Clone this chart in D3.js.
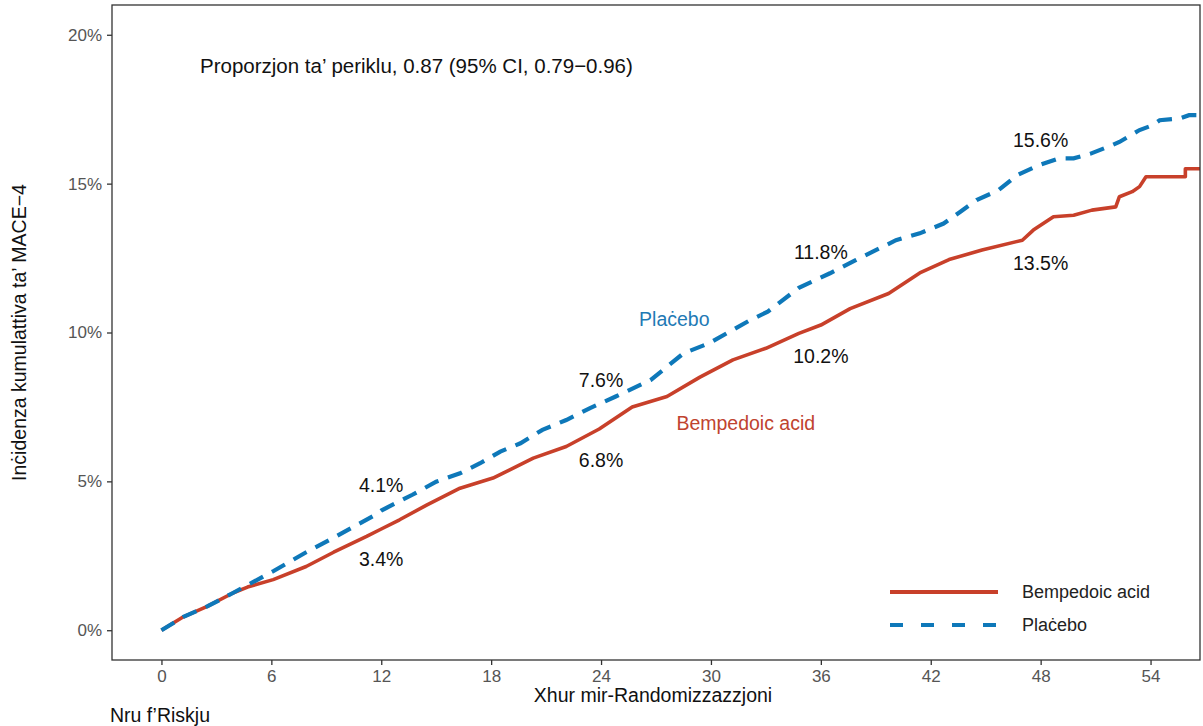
<!DOCTYPE html>
<html>
<head>
<meta charset="utf-8">
<script src="https://cdn.jsdelivr.net/npm/d3@7"></script>
<style>
  body { margin: 0; background: #fff; }
  text { font-family: "Liberation Sans", Arial, sans-serif; }
</style>
</head>
<body>
<script>
// months since randomisation / cumulative incidence (%)
const placeboMonths = [0, 1.2, 2.5, 3.9, 4.7, 6.1, 7.9, 9.2, 10.5, 11.75, 12, 13.7, 15.0, 16.3, 17.4, 18.5, 19.6, 20.8, 22.1, 23.4, 24.8, 26.7, 28.5, 29.9, 32.1, 33.1, 34.8, 36.5, 37.9, 40.1, 41.4, 42.7, 43.6, 44.5, 45.7, 46.7, 47.9, 49.0, 49.8, 50.7, 51.9, 52.3, 53.4, 54.1, 54.5, 55.6, 56.1, 56.7];
const placeboPct = [0, 0.45, 0.8, 1.25, 1.52, 1.98, 2.62, 3.04, 3.48, 3.9, 4.02, 4.55, 4.99, 5.27, 5.61, 6.0, 6.28, 6.73, 7.06, 7.46, 7.85, 8.4, 9.3, 9.64, 10.4, 10.7, 11.5, 11.99, 12.43, 13.1, 13.33, 13.66, 14.05, 14.45, 14.78, 15.28, 15.62, 15.85, 15.85, 16.0, 16.29, 16.4, 16.8, 16.96, 17.13, 17.19, 17.3, 17.3];

const bempMonths = [0, 1.2, 2.5, 3.9, 4.7, 6.1, 7.9, 9.4, 11.2, 12, 13.0, 14.5, 16.3, 18.1, 20.3, 22.1, 23.9, 25.7, 27.6, 29.4, 31.2, 33.0, 34.8, 36.0, 37.6, 39.7, 41.4, 43.0, 44.8, 47.0, 47.6, 48.7, 49.8, 50.8, 52.1, 52.3, 53.0, 53.4, 53.75, 55.9, 55.9, 56.7];
const bempPct = [0, 0.45, 0.8, 1.25, 1.45, 1.7, 2.14, 2.62, 3.15, 3.4, 3.71, 4.21, 4.77, 5.11, 5.78, 6.17, 6.76, 7.5, 7.85, 8.5, 9.08, 9.47, 9.97, 10.25, 10.8, 11.31, 12.0, 12.45, 12.77, 13.1, 13.44, 13.89, 13.94, 14.11, 14.22, 14.56, 14.73, 14.9, 15.23, 15.23, 15.5, 15.5];

const xTicks = [0, 6, 12, 18, 24, 30, 36, 42, 48, 54];
const yTicks = [0, 5, 10, 15, 20];

// point estimates printed on the curves
const estLabels = ["4.1%", "3.4%", "7.6%", "6.8%", "11.8%", "10.2%", "15.6%", "13.5%"];
const estMonths = [12, 12, 24, 24, 36, 36, 48, 48];
const estPct = [4.88, 2.37, 8.41, 5.72, 12.71, 9.19, 16.46, 12.33];

const seriesNames = ["Bempedoic acid", "Plaċebo"];
const seriesColors = ["#c8402a", "#0e78b9"];

const W = 1203, H = 726;
const mLeft = 112, mRight = 1200, mTop = 5, mBottom = 660;

const xScale = d3.scaleLinear().domain([-2.7, 56.7]).range([mLeft, mRight]);
const yScale = d3.scaleLinear().domain([-1, 21]).range([mBottom, mTop]);

const svg = d3.select("body").append("svg").attr("width", W).attr("height", H);

const xAxis = d3.axisBottom(xScale).tickValues(xTicks).tickSize(5).tickPadding(5);
const yAxis = d3.axisLeft(yScale).tickValues(yTicks).tickSize(5).tickPadding(5).tickFormat(d => d + "%");

svg.append("g").attr("transform", "translate(0," + mBottom + ")").call(xAxis);
svg.append("g").attr("transform", "translate(" + mLeft + ",0)").call(yAxis);

svg.selectAll(".domain").remove();
svg.selectAll(".tick line").style("stroke", "#333").style("stroke-width", "1.3px");
svg.selectAll(".tick text").style("fill", "#555").style("font-size", "17px")
  .style("font-family", "'Liberation Sans', Arial, sans-serif");

// curves
const line = d3.line().x(d => xScale(d[0])).y(d => yScale(d[1]));
const bempData = bempMonths.map((m, i) => [m, bempPct[i]]);
const placeboData = placeboMonths.map((m, i) => [m, placeboPct[i]]);

svg.append("path").datum(bempData)
  .attr("d", line)
  .style("fill", "none").style("stroke", seriesColors[0]).style("stroke-width", "3.6px")
  .style("stroke-linejoin", "round");

svg.append("path").datum(placeboData)
  .attr("d", line)
  .style("fill", "none").style("stroke", seriesColors[1]).style("stroke-width", "4.2px")
  .style("stroke-dasharray", "15,10");

// panel border
svg.append("rect")
  .attr("x", mLeft).attr("y", mTop)
  .attr("width", mRight - mLeft).attr("height", mBottom - mTop)
  .style("fill", "none").style("stroke", "#333").style("stroke-width", "1.3px");

// estimates
svg.selectAll("text.est")
  .data(estLabels)
  .enter()
  .append("text")
  .attr("class", "est")
  .attr("x", (d, i) => xScale(estMonths[i]))
  .attr("y", (d, i) => yScale(estPct[i]))
  .attr("dy", "0.35em")
  .attr("text-anchor", "middle")
  .style("font-size", "19.5px")
  .style("fill", "#111")
  .text(d => d);

// inline series labels
svg.append("text")
  .attr("x", xScale(28)).attr("y", yScale(10.45)).attr("dy", "0.35em")
  .attr("text-anchor", "middle")
  .style("font-size", "19.5px").style("fill", "#1f7ab5")
  .text("Plaċebo");

svg.append("text")
  .attr("x", xScale(31.9)).attr("y", yScale(6.96)).attr("dy", "0.35em")
  .attr("text-anchor", "middle")
  .style("font-size", "19.5px").style("fill", "#c0432f")
  .text("Bempedoic acid");

svg.append("text")
  .attr("x", 200).attr("y", 73)
  .style("font-size", "20.5px").style("fill", "#111")
  .text("Proporzjon ta’ periklu, 0.87 (95% CI, 0.79−0.96)");

// legend
const legend = svg.append("g").attr("transform", "translate(890,592)");
seriesNames.forEach((name, i) => {
  legend.append("line")
    .attr("x1", 0).attr("x2", 108)
    .attr("y1", i * 33).attr("y2", i * 33)
    .style("stroke", seriesColors[i])
    .style("stroke-width", "4px")
    .style("stroke-dasharray", i === 1 ? "13,18" : null);
  legend.append("text")
    .attr("x", 132).attr("y", i * 33).attr("dy", "0.35em")
    .style("font-size", "18px").style("fill", "#222")
    .text(name);
});

// axis titles
svg.append("text")
  .attr("x", 653).attr("y", 702)
  .attr("text-anchor", "middle")
  .style("font-size", "19.5px").style("fill", "#111")
  .text("Xhur mir-Randomizzazzjoni");

svg.append("text")
  .attr("transform", "translate(26," + ((mTop + mBottom) / 2) + ") rotate(-90)")
  .attr("text-anchor", "middle")
  .style("font-size", "19.5px").style("fill", "#111")
  .text("Inċidenza kumulattiva ta’ MACE−4");

svg.append("text")
  .attr("x", 110).attr("y", 722)
  .style("font-size", "19.5px").style("fill", "#111")
  .text("Nru f’Riskju");
</script>
</body>
</html>
